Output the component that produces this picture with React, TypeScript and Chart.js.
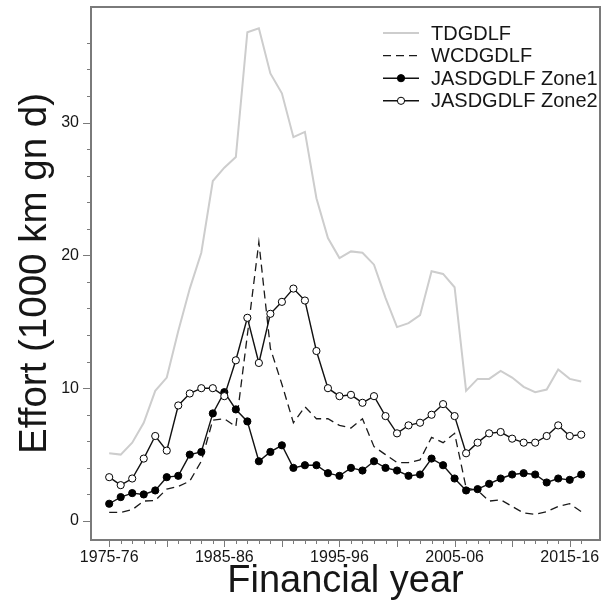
import React, { useEffect, useRef } from 'react';
import { Chart, registerables } from 'chart.js';

Chart.register(...registerables);

const years = [
  '1975-76', '1976-77', '1977-78', '1978-79', '1979-80', '1980-81', '1981-82', '1982-83', '1983-84', '1984-85',
  '1985-86', '1986-87', '1987-88', '1988-89', '1989-90', '1990-91', '1991-92', '1992-93', '1993-94', '1994-95',
  '1995-96', '1996-97', '1997-98', '1998-99', '1999-00', '2000-01', '2001-02', '2002-03', '2003-04', '2004-05',
  '2005-06', '2006-07', '2007-08', '2008-09', '2009-10', '2010-11', '2011-12', '2012-13', '2013-14', '2014-15',
  '2015-16', '2016-17',
];

const tdgdlf = [
  5.1, 5.0, 5.9, 7.4, 9.8, 10.8, 14.3, 17.5, 20.2, 25.6,
  26.6, 27.4, 36.8, 37.1, 33.7, 32.2, 28.9, 29.3, 24.3, 21.3,
  19.8, 20.3, 20.2, 19.3, 16.8, 14.6, 14.9, 15.5, 18.8, 18.6,
  17.6, 9.8, 10.7, 10.7, 11.3, 10.8, 10.1, 9.7, 9.9, 11.4,
  10.7, 10.5,
];

const wcdgdlf = [
  0.65, 0.65, 0.85, 1.5, 1.55, 2.4, 2.6, 3.0, 4.5, 7.6,
  7.7, 7.1, 14.0, 21.0, 13.0, 10.3, 7.4, 8.6, 7.7, 7.7,
  7.2, 7.0, 7.7, 5.6, 5.0, 4.4, 4.4, 4.6, 6.3, 5.9,
  6.6, 2.5, 2.3, 1.5, 1.6, 1.1, 0.6, 0.5, 0.7, 1.1,
  1.3, 0.7,
];

const zone1 = [
  1.3, 1.8, 2.1, 2.0, 2.3, 3.3, 3.4, 5.0, 5.2, 8.1,
  9.7, 8.4, 7.5, 4.5, 5.2, 5.7, 4.0, 4.2, 4.2, 3.6,
  3.4, 4.0, 3.8, 4.5, 4.0, 3.8, 3.4, 3.5, 4.7, 4.2,
  3.2, 2.3, 2.4, 2.8, 3.2, 3.5, 3.6, 3.5, 2.9, 3.2,
  3.1, 3.5,
];

const zone2 = [
  3.3, 2.7, 3.2, 4.7, 6.4, 5.3, 8.7, 9.6, 10.0, 10.0,
  9.4, 12.1, 15.3, 11.9, 15.6, 16.5, 17.5, 16.6, 12.8, 10.0,
  9.4, 9.5, 8.9, 9.4, 7.9, 6.6, 7.2, 7.4, 8.0, 8.8,
  7.9, 5.1, 5.9, 6.6, 6.7, 6.2, 5.9, 5.9, 6.4, 7.2,
  6.4, 6.5,
];

const xLabelYears = ['1975-76', '1985-86', '1995-96', '2005-06', '2015-16'];
const yTickValues = [0, 2, 4, 6, 8, 10, 12, 14, 16, 18, 20, 22, 24, 26, 28, 30, 32, 34, 36];
const yLabelValues = [0, 10, 20, 30];

const FONT = "'Liberation Sans', Arial, sans-serif";
const TEXT = '#161616';
const AXIS = '#7a7a7a';
const TD_COLOR = '#cdcdcd';

const toPoints = (arr: number[]) => arr.map((v, i) => ({ x: i, y: v }));

const legendItems = [
  { label: 'TDGDLF', color: TD_COLOR, width: 2, dash: [] as number[], marker: 'none' },
  { label: 'WCDGDLF', color: '#1a1a1a', width: 1.3, dash: [8, 5], marker: 'none' },
  { label: 'JASDGDLF Zone1', color: '#111', width: 1.4, dash: [] as number[], marker: 'filled' },
  { label: 'JASDGDLF Zone2', color: '#111', width: 1.4, dash: [] as number[], marker: 'open' },
];

const decor = {
  id: 'decor',
  afterDraw(chart: any) {
    const { ctx, chartArea: a, scales } = chart;
    const xs = scales.x;
    const ys = scales.y;
    ctx.save();
    // frame
    ctx.strokeStyle = AXIS;
    ctx.lineWidth = 2;
    ctx.setLineDash([]);
    ctx.strokeRect(a.left, a.top, a.right - a.left, a.bottom - a.top);
    // x ticks
    ctx.lineWidth = 1;
    ctx.strokeStyle = AXIS;
    years.forEach((_, i) => {
      const px = Math.round(xs.getPixelForValue(i)) + 0.5;
      const len = i % 5 === 0 ? 7 : 4;
      ctx.beginPath();
      ctx.moveTo(px, a.bottom);
      ctx.lineTo(px, a.bottom + len);
      ctx.stroke();
    });
    // y ticks
    yTickValues.forEach((v) => {
      const py = Math.round(ys.getPixelForValue(v)) + 0.5;
      const len = v % 10 === 0 ? 8 : 4;
      ctx.beginPath();
      ctx.moveTo(a.left - len, py);
      ctx.lineTo(a.left, py);
      ctx.stroke();
    });
    // legend
    const x0 = 383;
    const x1 = 419;
    const tx = 431;
    ctx.font = `20px ${FONT}`;
    ctx.textBaseline = 'middle';
    ctx.textAlign = 'left';
    legendItems.forEach((it, k) => {
      const y = 33 + k * 22.6;
      ctx.strokeStyle = it.color;
      ctx.lineWidth = it.width;
      ctx.setLineDash(it.dash);
      ctx.beginPath();
      ctx.moveTo(x0, y);
      ctx.lineTo(x1, y);
      ctx.stroke();
      ctx.setLineDash([]);
      if (it.marker !== 'none') {
        ctx.beginPath();
        ctx.arc((x0 + x1) / 2, y, 3.6, 0, Math.PI * 2);
        ctx.fillStyle = it.marker === 'filled' ? '#000' : '#fff';
        ctx.fill();
        ctx.lineWidth = 1;
        ctx.strokeStyle = '#000';
        ctx.stroke();
      }
      ctx.fillStyle = TEXT;
      ctx.fillText(it.label, tx, y + 1);
    });
    ctx.restore();
  },
};

export default function App() {
  const ref = useRef<HTMLCanvasElement | null>(null);

  useEffect(() => {
    document.body.style.margin = '0';
    const canvas = ref.current;
    if (!canvas) return;
    const chart = new Chart(canvas, {
      type: 'line',
      data: {
        datasets: [
          {
            label: 'TDGDLF',
            data: toPoints(tdgdlf),
            borderColor: TD_COLOR,
            borderWidth: 2,
            pointRadius: 0,
            tension: 0,
            order: 4,
          },
          {
            label: 'WCDGDLF',
            data: toPoints(wcdgdlf),
            borderColor: '#1a1a1a',
            borderWidth: 1.3,
            borderDash: [8, 5],
            pointRadius: 0,
            tension: 0,
            order: 3,
          },
          {
            label: 'JASDGDLF Zone1',
            data: toPoints(zone1),
            borderColor: '#111',
            borderWidth: 1.4,
            pointRadius: 3.6,
            pointBackgroundColor: '#000',
            pointBorderColor: '#000',
            pointBorderWidth: 1,
            tension: 0,
            order: 2,
          },
          {
            label: 'JASDGDLF Zone2',
            data: toPoints(zone2),
            borderColor: '#111',
            borderWidth: 1.4,
            pointRadius: 3.6,
            pointBackgroundColor: '#fff',
            pointBorderColor: '#000',
            pointBorderWidth: 1,
            tension: 0,
            order: 1,
          },
        ],
      },
      options: {
        animation: false,
        responsive: false,
        maintainAspectRatio: false,
        layout: { padding: { top: 7, right: 2, left: 0, bottom: 0 } },
        plugins: { legend: { display: false }, tooltip: { enabled: false } },
        scales: {
          x: {
            type: 'linear',
            min: -1.58,
            max: 42.63,
            afterBuildTicks: (s: any) => {
              s.ticks = years.map((_, i) => ({ value: i }));
            },
            afterFit: (s: any) => {
              s.height = 68;
              s.paddingLeft = 0;
              s.paddingRight = 0;
            },
            grid: { display: false, drawTicks: false },
            border: { display: false },
            ticks: {
              autoSkip: false,
              maxRotation: 0,
              minRotation: 0,
              padding: 8,
              color: TEXT,
              font: { family: FONT, size: 16 },
              callback: (v: any) => {
                const lbl = years[Math.round(Number(v))];
                return xLabelYears.includes(lbl) ? lbl : '';
              },
            },
            title: {
              display: true,
              text: 'Financial year',
              color: TEXT,
              font: { family: FONT, size: 38 },
              padding: { top: 0, bottom: 4 },
            },
          },
          y: {
            type: 'linear',
            min: -1.43,
            max: 38.7,
            afterBuildTicks: (s: any) => {
              s.ticks = yTickValues.map((v) => ({ value: v }));
            },
            afterFit: (s: any) => {
              s.width = 91;
              s.paddingTop = 0;
              s.paddingBottom = 0;
            },
            grid: { display: false, drawTicks: false },
            border: { display: false },
            ticks: {
              autoSkip: false,
              padding: 12,
              color: TEXT,
              font: { family: FONT, size: 16 },
              callback: (v: any) => (yLabelValues.includes(Number(v)) ? String(v) : ''),
            },
            title: {
              display: true,
              text: 'Effort (1000 km gn d)',
              color: TEXT,
              font: { family: FONT, size: 38.5 },
              padding: { top: 12, bottom: 0 },
            },
          },
        },
      },
      plugins: [decor],
    });
    return () => chart.destroy();
  }, []);

  return (
    <div style={{ position: 'absolute', left: 0, top: 0, width: 605, height: 608, background: '#fff' }}>
      <canvas ref={ref} width={605} height={608} style={{ display: 'block' }} />
    </div>
  );
}
